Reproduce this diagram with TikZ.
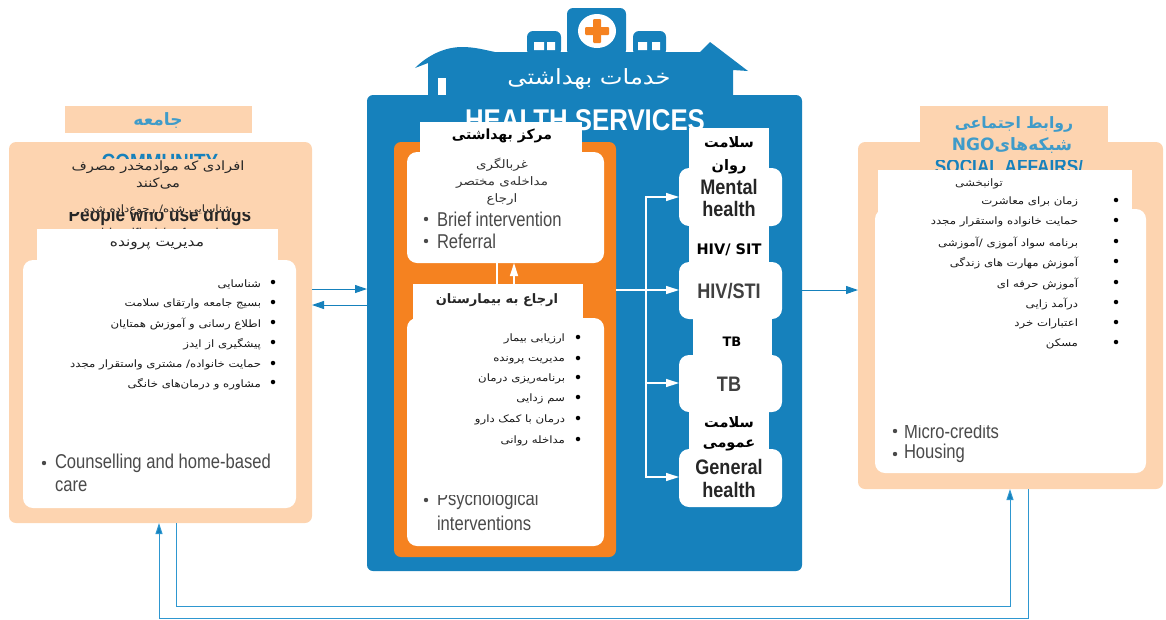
\documentclass[tikz,border=0pt]{standalone}
\usepackage{fontspec}
\usetikzlibrary{arrows.meta}
\setmainfont{Liberation Sans}
\newfontfamily\arabicfont[Script=Arabic,FakeStretch=1.15]{DejaVu Sans}
\newfontfamily\arabicbold[Script=Arabic]{DejaVu Sans Bold}
\newfontfamily\narrowfont[FakeStretch=0.83]{Liberation Sans}
\newfontfamily\narrowbold[FakeStretch=0.86]{Liberation Sans Bold}
\TeXXeTstate=1
\definecolor{hblue}{HTML}{1681BC}
\definecolor{horange}{HTML}{F58220}
\definecolor{hpeach}{HTML}{FDD4B0}
\definecolor{tblue}{HTML}{3F9BC9}
\definecolor{lblue}{HTML}{2E97D0}
\definecolor{tgrey}{HTML}{4A4A4A}
\newcommand{\fsz}[1]{\fontsize{#1}{#1}\selectfont}
\newcommand{\fa}[2]{{\fsz{#1}\arabicfont #2}}
\newcommand{\fab}[2]{{\fsz{#1}\arabicbold #2}}
\newcommand{\en}[2]{{\fsz{#1}\narrowfont #2}}
\newcommand{\enb}[2]{{\fsz{#1}\narrowbold #2}}
\tikzset{
  panelbox/.style={inner sep=0pt,outer sep=0pt,anchor=north west},
  peachsq/.style={panelbox,fill=hpeach},
  peachrd/.style={panelbox,fill=hpeach,rounded corners=7pt},
  whitesq/.style={panelbox,fill=white},
  whiterd/.style={panelbox,fill=white,rounded corners=10pt},
  orangerd/.style={panelbox,fill=horange,rounded corners=7pt},
  bluerd/.style={panelbox,fill=hblue,rounded corners=6pt},
  txt/.style={inner sep=0pt,outer sep=0pt},
  fat/.style={txt,yshift=-2pt},
  dot/.style={circle,fill=black,inner sep=0pt,minimum size=4.5pt},
  engdot/.style={circle,fill=tgrey,inner sep=0pt,minimum size=4.4pt},
  wline/.style={draw=white,line width=1.3pt},
  warrow/.style={wline,-{Triangle[length=13pt,width=8pt,fill=white]}},
  barrow/.style={draw=hblue,line width=1pt,-{Triangle[length=12pt,width=8pt,fill=hblue]}},
  loopline/.style={draw=lblue,line width=1pt},
  looparrow/.style={loopline,-{Triangle[length=11pt,width=7pt,fill=hblue]}},
}
\newcommand{\panel}[6]{\node[#2,minimum width={(#5-#3)*1pt},minimum height={(#6-#4)*1pt}] (#1) at (#3,#4) {};}
\newcommand{\rowitem}[5]{\node[dot] (#1-b) at (#2,#4) {}; \node[fat,anchor=east,text=black!90] (#1) at (#3,#4) {\fa{10.2}{#5}};}
\begin{document}
\begin{tikzpicture}[x=1pt,y=-1pt]
\useasboundingbox (0,0) rectangle (1166,619);
% ---------- left column
\panel{ltitle}{peachsq}{65}{106}{252}{133}
\node[fat,text=tblue] (ltitlet) at (158,119) {\fab{17}{\beginR جامعه\endR}};
\panel{lpanel}{peachrd}{9}{142}{312}{523}
\begin{scope}
\clip (60,150) rectangle (260,158);
\node[txt,text=hblue] (lcomm) at (160,162) {\enb{22}{COMMUNITY}};
\end{scope}
\node[fat,text=black!85] (lh1) at (158,165) {\fa{12.8}{\beginR افرادی که موادمخدر مصرف\endR}};
\node[fat,text=black!85] (lh2) at (158,181) {\fa{12.8}{\beginR می‌کنند\endR}};
\node[fat,text=black!85] (lh3) at (158,208) {\fa{10.2}{\beginR شناسایی شده/ رجوع‌داده شده\endR}};
\begin{scope}
\clip (50,212) rectangle (270,229);
\node[txt,text=black!85] (lpeople) at (160,216) {\enb{20}{People who use drugs}};
\node[txt,text=black!75] (lident) at (160,234) {\en{17}{identified / referred}};
\end{scope}
\panel{llabel}{whitesq}{37}{229}{278}{262}
\panel{lwhite}{whiterd}{23}{260}{296}{508}
\node[fat,text=black!85] (llabelt) at (157,243) {\fa{13.4}{\beginR مدیریت  پرونده\endR}};
\rowitem{l1}{273}{261}{282}{\beginR شناسایی\endR}
\rowitem{l2}{273}{261}{302}{\beginR بسیج جامعه وارتقای سلامت\endR}
\rowitem{l3}{273}{261}{322}{\beginR اطلاع رسانی و آموزش همتایان\endR}
\rowitem{l4}{273}{261}{342}{\beginR پیشگیری از ایدز\endR}
\rowitem{l5}{273}{261}{363}{\beginR حمایت خانواده/ مشتری  واستقرار مجدد\endR}
\rowitem{l6}{273}{261}{382}{\beginR مشاوره و درمان‌های خانگی\endR}
\node[engdot] (l7b) at (44,463) {};
\node[txt,anchor=west,text=tgrey] (l7) at (55,463) {\en{20}{Counselling and home-based}};
\node[txt,anchor=west,text=tgrey] (l7c) at (55,486) {\en{20}{care}};
% ---------- house
\fill[hblue] (415,68) .. controls (428,55) and (445,47) .. (462,47) .. controls (475,47) and (485,50) .. (495,52)
  -- (700,52) -- (710,42) -- (748,71) -- (733,70) -- (733,100) -- (428,100) -- (428,63) -- cycle;
\panel{tower}{bluerd}{567}{8}{626}{56}
\panel{lbuild}{bluerd}{527}{31}{561}{56}
\panel{rbuild}{bluerd}{633}{31}{666}{56}
\fill[white] (597,31) ellipse [x radius=19pt,y radius=17pt];
\fill[horange,rounded corners=1pt] (585,27) rectangle (609,35);
\fill[horange,rounded corners=1pt] (593,19) rectangle (601,43);
\fill[white] (534,42) rectangle (544,50) (547,42) rectangle (555,50);
\fill[white] (638,42) rectangle (647,50) (652,42) rectangle (660,50);
\panel{hmain}{bluerd}{367}{95}{802}{571}
\fill[white] (438,78) rectangle (446,95);
\node[fat,text=white] (htitle) at (589,77) {\fa{21}{\beginR خدمات بهداشتی\endR}};
\node[txt,text=white] (hserv) at (585,120) {\enb{30}{HEALTH SERVICES}};
% ---------- centre column
\panel{orange}{orangerd}{394}{142}{616}{557}
\panel{plabel}{whitesq}{420}{122}{582}{155}
\panel{pwhite}{whiterd}{407}{152}{604}{263}
\node[fat,text=black] (plabelt) at (502,134) {\fab{14}{\beginR مرکز بهداشتی\endR}};
\node[fat,text=black!80] (p1) at (502,163) {\fa{11.7}{\beginR غربالگری\endR}};
\node[fat,text=black!80] (p2) at (502,180) {\fa{11.7}{\beginR مداخله‌ی مختصر\endR}};
\node[fat,text=black!80] (p3) at (502,197) {\fa{11.7}{\beginR ارجاع\endR}};
\node[engdot] (p4b) at (426,219) {};
\node[txt,anchor=west,text=tgrey] (p4) at (437,219) {\en{20}{Brief intervention}};
\node[engdot] (p5b) at (426,241) {};
\node[txt,anchor=west,text=tgrey] (p5) at (437,241) {\en{20}{Referral}};
\panel{hlabel}{whitesq}{413}{284}{583}{322}
\panel{hwhite}{whiterd}{407}{318}{604}{546}
\node[fat,text=black!85] (hlabelt) at (497,298) {\fab{13}{\beginR ارجاع به بیمارستان\endR}};
\rowitem{h1}{578}{565}{337}{\beginR ارزیابی بیمار\endR}
\rowitem{h2}{578}{565}{358}{\beginR مدیریت پرونده\endR}
\rowitem{h3}{578}{565}{377}{\beginR برنامه‌ریزی درمان\endR}
\rowitem{h4}{578}{565}{397}{\beginR سم زدایی\endR}
\rowitem{h5}{578}{565}{418}{\beginR درمان با کمک دارو\endR}
\rowitem{h6}{578}{565}{439}{\beginR مداخله روانی\endR}
\begin{scope}
\clip (415,495) rectangle (600,512);
\node[engdot] (h7b) at (426,500) {};
\node[txt,anchor=west,text=tgrey] (h7) at (437,500) {\en{20}{Psychological}};
\end{scope}
\node[txt,anchor=west,text=tgrey] (h8) at (437,523) {\en{20}{interventions}};
\coordinate (upa) at (497,0);
\coordinate (upb) at (514,0);
\draw[wline] (hlabel.north -| upa) -- (pwhite.south -| upa);
\draw[warrow] (hlabel.north -| upb) -- (pwhite.south -| upb);
% ---------- services column
\panel{cola}{whitesq}{689}{128}{769}{270}
\panel{colb}{whitesq}{693}{310}{772}{365}
\panel{colc}{whitesq}{689}{405}{769}{460}
\panel{mental}{whiterd}{679}{168}{782}{226}
\panel{hiv}{whiterd}{679}{262}{782}{319}
\panel{tb}{whiterd}{679}{355}{782}{412}
\panel{general}{whiterd}{679}{449}{782}{507}
\node[fat] (c1) at (729,140) {\fab{14.5}{\beginR سلامت\endR}};
\node[fat] (c2) at (729,165) {\fab{14.5}{\beginR روان\endR}};
\node[txt,text=black!85] (m1) at (729,187) {\enb{21}{Mental}};
\node[txt,text=black!85] (m2) at (729,209) {\enb{21}{health}};
\node[txt] (c3) at (729,250) {\fsz{14.5}\arabicbold HIV/ SIT};
\node[txt,text=black!75] (v1) at (729,291) {\enb{21}{HIV/STI}};
\node[txt] (c4) at (732,342) {\fsz{13}\arabicbold TB};
\node[txt,text=black!75] (t1) at (729,384) {\enb{21}{TB}};
\node[fat] (c5) at (729,420) {\fab{14.5}{\beginR سلامت\endR}};
\node[fat] (c6) at (729,443) {\fab{14.5}{\beginR عمومی\endR}};
\node[txt,text=black!85] (g1) at (729,467) {\enb{21}{General}};
\node[txt,text=black!85] (g2) at (729,490) {\enb{21}{health}};
\coordinate (jn) at (646,290);
\coordinate (ya) at (0,197);
\coordinate (yc) at (0,383);
\coordinate (yd) at (0,477);
\draw[wline] (orange.east |- jn) -- (jn);
\draw[warrow] (jn) -- (hiv.west |- jn);
\draw[warrow] (jn) |- (mental.west |- ya);
\draw[warrow] (jn) |- (tb.west |- yc);
\draw[warrow] (jn) |- (general.west |- yd);
% ---------- right column
\panel{rpanel}{peachrd}{858}{142}{1163}{489}
\panel{rtitle}{peachsq}{920}{106}{1108}{150}
\node[fat,text=tblue] (rt1) at (1014,122) {\fab{15.7}{\beginR روابط اجتماعی\endR}};
\node[fat,text=tblue] (rt2) at (1012,144) {\fab{17}{\beginR شبکه‌های\beginL NGO\endL\endR}};
\begin{scope}
\clip (920,160) rectangle (1100,171);
\node[txt,text=hblue] (rsoc) at (1009,166) {\enb{20}{SOCIAL AFFAIRS/}};
\end{scope}
\panel{rlabel}{whitesq}{878}{170}{1132}{212}
\panel{rwhite}{whiterd}{875}{209}{1146}{473}
\node[fat,text=black!85] (rlabelt) at (979,182) {\fa{10.3}{\beginR توانبخشی\endR}};
\rowitem{r1}{1116}{1078}{200}{\beginR زمان برای معاشرت\endR}
\rowitem{r2}{1116}{1078}{220}{\beginR حمایت خانواده  واستقرار مجدد\endR}
\rowitem{r3}{1116}{1078}{241}{\beginR برنامه سواد آموزی /آموزشی\endR}
\rowitem{r4}{1116}{1078}{261}{\beginR آموزش مهارت های زندگی\endR}
\rowitem{r5}{1116}{1078}{282}{\beginR آموزش حرفه ای\endR}
\rowitem{r6}{1116}{1078}{302}{\beginR درآمد زایی\endR}
\rowitem{r7}{1116}{1078}{322}{\beginR اعتبارات خرد\endR}
\rowitem{r8}{1116}{1078}{342}{\beginR مسکن\endR}
\begin{scope}
\clip (885,425) rectangle (1100,441);
\node[engdot] (r9b) at (895,431) {};
\node[txt,anchor=west,text=tgrey] (r9) at (904,431) {\en{20}{Micro-credits}};
\end{scope}
\node[engdot] (r10b) at (895,454) {};
\node[txt,anchor=west,text=tgrey] (r10) at (904,453) {\en{20}{Housing}};
% ---------- connectors between columns
\coordinate (ya1) at (0,289);
\coordinate (ya2) at (0,305);
\coordinate (ya3) at (0,290);
\draw[barrow] (lpanel.east |- ya1) -- (hmain.west |- ya1);
\draw[barrow] (hmain.west |- ya2) -- (lpanel.east |- ya2);
\draw[barrow] (hmain.east |- ya3) -- (rpanel.west |- ya3);
% ---------- loops along the bottom
\coordinate (lo1) at (176,606.5);
\coordinate (lo2) at (159,618);
\coordinate (rx1) at (1010,0);
\coordinate (rx2) at (1028.5,0);
\draw[looparrow] (lpanel.south -| lo1) -- (lo1) -- (lo1 -| rx1) -- (rpanel.south -| rx1);
\draw[looparrow] (rpanel.south -| rx2) -- (lo2 -| rx2) -- (lo2) -- (lpanel.south -| lo2);
\end{tikzpicture}
\end{document}
